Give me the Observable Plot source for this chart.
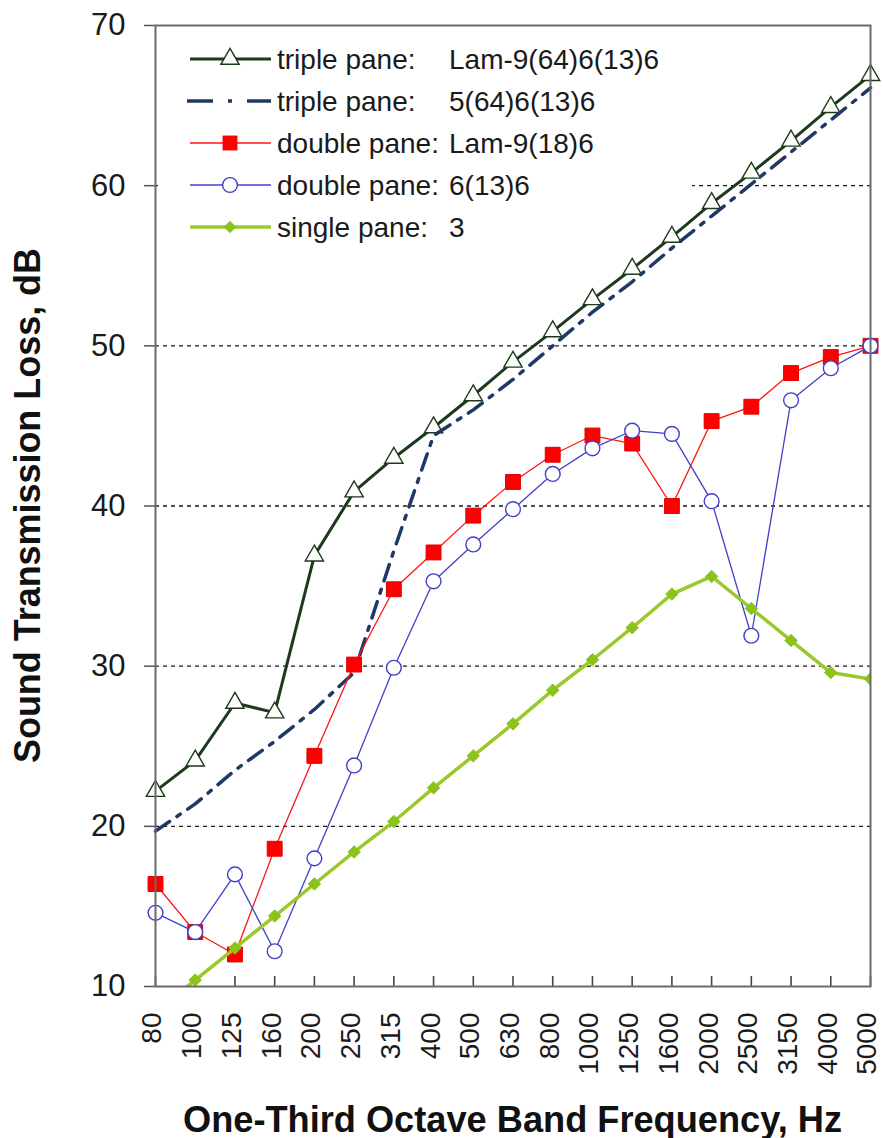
<!DOCTYPE html>
<html>
<head>
<meta charset="utf-8">
<script src="https://cdn.jsdelivr.net/npm/d3@7"></script>
<script src="https://cdn.jsdelivr.net/npm/@observablehq/plot@0.6"></script>
<style>
  html, body { margin: 0; padding: 0; background: white; }
  #chart svg { display: block; }
</style>
</head>
<body>
<div id="chart"></div>
<script>
// ---- data ----
const freqs = ["80","100","125","160","200","250","315","400","500","630","800","1000","1250","1600","2000","2500","3150","4000","5000"];
const tripleLam = [22.2, 24.1, 27.7, 27.1, 36.9, 40.9, 43.0, 44.9, 46.9, 49.0, 50.9, 52.9, 54.8, 56.8, 58.9, 60.8, 62.8, 64.9, 66.9];
const triple5   = [19.7, 21.4, 23.5, 25.3, 27.3, 29.6, 37.2, 44.4, 46.0, 47.9, 50.0, 52.1, 54.0, 56.1, 58.1, 60.1, 62.1, 64.1, 66.1];
const doubleLam = [16.4, 13.4, 12.0, 18.6, 24.4, 30.1, 34.8, 37.1, 39.4, 41.5, 43.2, 44.4, 43.9, 40.0, 45.3, 46.2, 48.3, 49.3, 50.0];
const double6   = [14.6, 13.4, 17.0, 12.2, 18.0, 23.8, 29.9, 35.3, 37.6, 39.8, 42.0, 43.6, 44.7, 44.5, 40.3, 31.9, 46.6, 48.6, 50.0];
const single3   = [8.4, 10.4, 12.4, 14.4, 16.4, 18.4, 20.3, 22.4, 24.4, 26.4, 28.5, 30.4, 32.4, 34.5, 35.6, 33.6, 31.6, 29.6, 29.2];
const yTicks = [10, 20, 30, 40, 50, 60, 70];
const gridVals = [20, 30, 40, 50, 60];
const legendPrefix = ["triple pane:", "triple pane:", "double pane:", "double pane:", "single pane:"];
const legendSuffix = ["Lam-9(64)6(13)6", "5(64)6(13)6", "Lam-9(18)6", "6(13)6", "3"];
const xTitle = "One-Third Octave Band Frequency, Hz";
const yTitle = "Sound Transmission Loss, dB";

// ---- styles ----
const C = {
  triLam: "#1d3a1d", tri5: "#1f3866", dblLam: "#ff1414", dbl6: "#4040c8", single: "#99c92a",
  singleDot: "#8cc21c"
};
const W = 883, H = 1138, mL = 155, mR = 13, mT = 25, mB = 152;
const FONT = "'Liberation Sans', Arial, Helvetica, sans-serif";
const dash = "17,9,4,9";
const R = {tri: 6.8, sq: 8.4, circ: 7.4, dia: 5.6};

const rows = freqs.map((f, i) => ({f, a: tripleLam[i], b: triple5[i], c: doubleLam[i], d: double6[i], e: single3[i]}));

const chart = Plot.plot({
  width: W, height: H,
  marginLeft: mL, marginRight: mR, marginTop: mT, marginBottom: mB,
  style: {fontFamily: FONT, background: "white", color: "#1a1a1a", overflow: "visible"},
  x: {type: "point", domain: freqs, padding: 0, inset: 0, round: false},
  y: {domain: [10, 70], inset: 0},
  marks: [
    Plot.ruleY(gridVals, {stroke: "#1a1a1a", strokeWidth: 1.4, strokeDasharray: "4,4"}),
    Plot.tickX(freqs, {x: d => d, insetTop: H - mT - mB - 10, stroke: "#444", strokeWidth: 1.6}),
    Plot.axisY({ticks: yTicks, tickSize: 11, tickPadding: 19, fontSize: 31, label: null, stroke: "#555", strokeWidth: 1.5}),
    Plot.axisX({tickSize: 0, tickPadding: 26, tickRotate: -90, fontSize: 28, dx: -3, label: null}),
    // triple pane Lam
    Plot.line(rows, {x: "f", y: "a", stroke: C.triLam, strokeWidth: 3}),
    Plot.dot(rows, {x: "f", y: "a", symbol: "triangle", r: R.tri, fill: "#fbfff8", stroke: C.triLam, strokeWidth: 1.4}),
    // triple pane 5
    Plot.line(rows, {x: "f", y: "b", stroke: C.tri5, strokeWidth: 3.5, strokeDasharray: dash}),
    // double pane Lam
    Plot.line(rows, {x: "f", y: "c", stroke: C.dblLam, strokeWidth: 1.3}),
    Plot.dot(rows, {x: "f", y: "c", symbol: "square", r: R.sq, fill: "#ff0000", stroke: "#e00000", strokeWidth: 1}),
    // double pane 6
    Plot.line(rows, {x: "f", y: "d", stroke: C.dbl6, strokeWidth: 1.3}),
    Plot.dot(rows, {x: "f", y: "d", symbol: "circle", r: R.circ, fill: "white", stroke: C.dbl6, strokeWidth: 1.4}),
    // single pane
    Plot.line(rows, {x: "f", y: "e", stroke: C.single, strokeWidth: 3.5, clip: true}),
    Plot.dot(rows, {x: "f", y: "e", symbol: "diamond2", r: R.dia, fill: C.singleDot, stroke: C.singleDot, strokeWidth: 1, clip: true}),
    Plot.frame({stroke: "#6a6a6a", strokeWidth: 2})
  ]
});

document.getElementById("chart").appendChild(chart);

// ---- legend (inserted right after the grid so it hides the 60 gridline) ----
const svg = d3.select(chart);
let gridNode = svg.selectAll("g").filter(function () { return this.getAttribute("stroke-dasharray") === "4,4"; }).node();
if (!gridNode) gridNode = svg.select('g[aria-label="rule"]').node();
const lg = d3.create("svg:g").attr("font-family", FONT).attr("text-anchor", "start");
if (gridNode) gridNode.after(lg.node()); else chart.appendChild(lg.node());
lg.append("rect").attr("x", 158).attr("y", 27).attr("width", 534).attr("height", 218).attr("fill", "white");
const rowY = i => 59 + i * 42;
const sx0 = 190, sx1 = 271, sxm = 230;
const sym = (type, r) => d3.symbol(type, Math.PI * r * r)();
legendPrefix.forEach((p, i) => {
  const y = rowY(i);
  const g = lg.append("g");
  if (i === 0) {
    g.append("line").attr("x1", sx0).attr("x2", sx1).attr("y1", y).attr("y2", y).attr("stroke", C.triLam).attr("stroke-width", 3);
    g.append("path").attr("d", sym(d3.symbolTriangle, R.tri)).attr("transform", `translate(${sxm},${y})`).attr("fill", "#fbfff8").attr("stroke", C.triLam).attr("stroke-width", 1.4);
  } else if (i === 1) {
    g.append("line").attr("x1", sx0 - 3).attr("x2", sx1).attr("y1", y).attr("y2", y).attr("stroke", C.tri5).attr("stroke-width", 3.5).attr("stroke-dasharray", "26,15,4,15");
  } else if (i === 2) {
    g.append("line").attr("x1", sx0).attr("x2", sx1).attr("y1", y).attr("y2", y).attr("stroke", C.dblLam).attr("stroke-width", 1.3);
    g.append("path").attr("d", sym(d3.symbolSquare, R.sq)).attr("transform", `translate(${sxm},${y})`).attr("fill", "#ff0000");
  } else if (i === 3) {
    g.append("line").attr("x1", sx0).attr("x2", sx1).attr("y1", y).attr("y2", y).attr("stroke", C.dbl6).attr("stroke-width", 1.3);
    g.append("circle").attr("cx", sxm).attr("cy", y).attr("r", R.circ).attr("fill", "white").attr("stroke", C.dbl6).attr("stroke-width", 1.4);
  } else {
    g.append("line").attr("x1", sx0).attr("x2", sx1).attr("y1", y).attr("y2", y).attr("stroke", C.single).attr("stroke-width", 3.5);
    g.append("path").attr("d", sym(d3.symbolDiamond2, R.dia)).attr("transform", `translate(${sxm},${y})`).attr("fill", C.singleDot);
  }
  g.append("text").attr("x", 277).attr("y", y + 10).attr("font-size", 28).attr("fill", "#1a1a1a").attr("text-anchor", "start").text(p);
  g.append("text").attr("x", 449).attr("y", y + 10).attr("font-size", 28).attr("fill", "#1a1a1a").attr("text-anchor", "start").text(legendSuffix[i]);
});

// ---- axis titles ----
svg.append("text")
  .attr("x", (mL + (W - mR)) / 2).attr("y", 1132)
  .attr("text-anchor", "middle").attr("font-family", FONT).attr("font-weight", "bold").attr("font-size", 36)
  .attr("fill", "#111").attr("textLength", 659).attr("lengthAdjust", "spacingAndGlyphs")
  .text(xTitle);
svg.append("text")
  .attr("transform", `translate(40,${(mT + (H - mB)) / 2}) rotate(-90)`)
  .attr("text-anchor", "middle").attr("font-family", FONT).attr("font-weight", "bold").attr("font-size", 36)
  .attr("fill", "#111").attr("textLength", 515).attr("lengthAdjust", "spacingAndGlyphs")
  .text(yTitle);
</script>
</body>
</html>
